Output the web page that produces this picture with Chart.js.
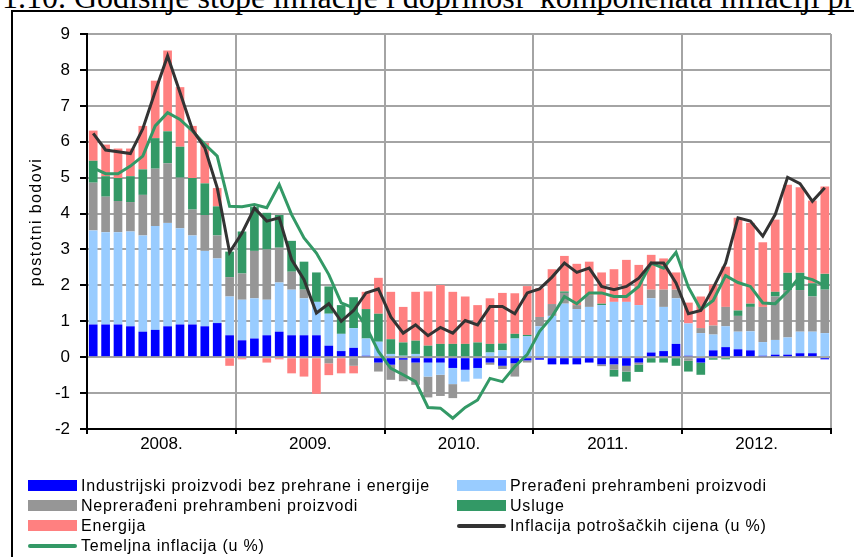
<!DOCTYPE html>
<html><head><meta charset="utf-8">
<script src="https://cdn.jsdelivr.net/npm/chart.js@4"></script>
<style>
html,body{margin:0;padding:0;background:#fff;width:854px;height:557px;overflow:hidden;position:relative}
#title{position:absolute;left:2px;top:-19.5px;font:32px/32px "Liberation Serif","Times New Roman",serif;white-space:nowrap;color:#000}
#frame{position:absolute;left:11px;top:10px;width:900px;height:600px;border-left:2px solid #000;border-top:2px solid #000;box-sizing:border-box}
#chart{position:absolute;left:0;top:0}
#legend{position:absolute;left:0;top:0;width:854px;height:557px;font:16px "Liberation Sans",Arial,sans-serif;letter-spacing:0.8px;color:#000}
.item{position:absolute;height:20px;line-height:20px;white-space:nowrap}
.sw{position:absolute;left:0;width:49px}
.tx{position:absolute;left:53px;top:0}
</style></head><body>
<div id="title">1.10. Godišnje stope inflacije i doprinosi&nbsp; komponenata inflaciji prema</div>
<div id="frame"></div>
<canvas id="chart" width="854" height="557"></canvas>
<div id="legend"></div>
<script>
const years = ['2008.', '2009.', '2010.', '2011.', '2012.'];
const monthNames = ['1','2','3','4','5','6','7','8','9','10','11','12'];
const yTicks = [-2,-1,0,1,2,3,4,5,6,7,8,9];

const industrijski = [
  0.91,0.91,0.91,0.86,0.71,0.76,0.86,0.91,0.91,0.86,0.95,0.61,
  0.47,0.52,0.61,0.71,0.61,0.61,0.61,0.32,0.17,0.26,0.04,-0.15,
  -0.21,-0.07,-0.15,-0.15,-0.15,-0.30,-0.35,-0.30,-0.15,-0.24,-0.17,-0.09,
  -0.07,-0.20,-0.20,-0.20,-0.15,-0.20,-0.20,-0.24,-0.15,0.13,0.17,0.37,
  0.04,-0.15,0.19,0.28,0.22,0.19,0.04,0.07,0.07,0.11,0.11,-0.06];
const preradeni = [
  2.62,2.57,2.57,2.64,2.68,2.89,2.88,2.68,2.48,2.10,1.80,1.08,
  1.13,1.12,0.99,1.37,1.27,1.03,0.93,0.89,0.48,0.55,0.48,0.43,
  0.09,0.04,0.09,-0.39,-0.34,-0.45,-0.33,-0.30,0.13,0.19,0.52,0.58,
  0.86,1.15,1.49,1.34,1.40,1.45,1.54,1.54,1.45,1.51,1.23,1.27,
  0.90,0.67,0.44,0.58,0.49,0.53,0.38,0.41,0.48,0.60,0.60,0.67];
const nepreradeni = [
  1.33,0.99,0.87,0.82,1.13,1.60,1.66,1.41,0.72,1.00,0.64,0.54,
  0.73,1.32,1.40,0.97,0.50,0.24,0.00,-0.17,0.00,-0.24,0.00,-0.25,
  -0.42,-0.60,-0.62,-0.58,-0.59,-0.39,0.00,0.00,-0.06,-0.09,-0.37,-0.06,
  0.26,0.33,0.30,0.11,0.33,-0.05,-0.15,-0.16,-0.06,0.24,0.48,0.24,
  -0.10,0.14,0.25,0.54,0.44,0.68,0.98,1.21,1.32,1.16,0.98,1.21];
const usluge = [
  0.61,0.57,0.64,0.72,0.71,0.85,0.89,0.86,0.88,0.88,0.81,0.71,
  1.17,1.22,1.02,0.91,0.86,0.78,0.82,0.76,0.80,0.86,0.82,0.78,
  0.41,0.37,0.37,0.32,0.37,0.37,0.37,0.41,0.24,0.19,0.13,0.04,
  0.00,0.00,0.04,0.00,0.00,0.04,-0.19,-0.28,-0.20,-0.15,-0.15,-0.24,
  -0.30,-0.34,-0.07,-0.06,0.15,0.09,0.00,0.13,0.48,0.48,0.37,0.44];
const energija = [
  0.84,0.88,0.82,0.77,1.21,1.60,2.25,1.66,1.45,1.13,0.51,-0.24,
  -0.06,0.00,-0.15,-0.06,-0.45,-0.54,-1.02,-0.33,-0.45,-0.21,0.48,1.00,
  1.32,0.99,1.36,1.51,1.64,1.45,1.32,1.04,1.27,1.41,1.13,1.36,
  0.80,0.97,0.99,1.15,0.93,0.87,0.91,1.17,1.12,0.97,0.87,0.48,
  0.58,0.88,1.14,1.12,2.58,2.25,1.80,2.01,2.45,2.38,2.30,2.43];
const inflacijaCPI = [
  6.23,5.77,5.72,5.67,6.36,7.40,8.39,7.37,6.34,5.83,4.72,2.92,
  3.46,4.15,3.79,3.88,2.72,2.16,1.23,1.49,1.00,1.30,1.79,1.90,
  1.12,0.67,0.90,0.60,0.83,0.67,1.02,0.90,1.41,1.41,1.21,1.79,
  1.90,2.23,2.62,2.36,2.48,1.97,1.88,1.97,2.20,2.62,2.62,2.07,
  1.21,1.30,1.93,2.62,3.88,3.79,3.37,3.97,5.01,4.83,4.34,4.72];
const temeljna = [
  5.27,5.11,5.11,5.32,5.60,6.44,6.81,6.62,6.30,5.93,5.60,4.20,
  4.19,4.25,4.16,4.81,3.97,3.32,2.90,2.30,1.51,1.37,0.86,0.16,
  -0.31,-0.49,-0.68,-1.40,-1.42,-1.70,-1.40,-1.19,-0.59,-0.68,-0.26,0.07,
  0.72,1.13,1.69,1.49,1.79,1.79,1.69,1.69,1.97,2.62,2.48,2.92,
  1.95,1.32,1.58,2.27,2.08,1.97,1.51,1.49,1.83,2.25,2.16,1.99];

const categories = [];
years.forEach(y => monthNames.forEach(m => categories.push(m + '/' + y)));

const FONT = "'Liberation Sans', Arial, sans-serif";
const GRID = '#a4a4a4';

function barDs(label, data, color) {
  return { type: 'bar', label, data, backgroundColor: color, borderWidth: 0,
    stack: 'comp', order: 1, barPercentage: 0.7, categoryPercentage: 1.0 };
}
function lineDs(label, data, color, stack) {
  return { type: 'line', label, data, borderColor: color, backgroundColor: color,
    borderWidth: 3, pointRadius: 0, tension: 0, fill: false, stack, order: 0 };
}

const datasets = [
  barDs('Industrijski proizvodi bez prehrane i energije', industrijski, '#0000ff'),
  barDs('Prerađeni prehrambeni proizvodi', preradeni, '#99ccff'),
  barDs('Neprerađeni prehrambeni proizvodi', nepreradeni, '#969696'),
  barDs('Usluge', usluge, '#339966'),
  barDs('Energija', energija, '#ff8080'),
  lineDs('Inflacija potrošačkih cijena (u %)', inflacijaCPI, '#333333', 'cpi'),
  lineDs('Temeljna inflacija (u %)', temeljna, '#339966', 'core')
];

const yTitle = {
  id: 'yTitle',
  afterDraw(chart) {
    const c = chart.ctx;
    c.save();
    c.translate(37, 222);
    c.rotate(-Math.PI / 2);
    c.font = '16px ' + FONT;
    if ('letterSpacing' in c) c.letterSpacing = '1.4px';
    c.fillStyle = '#000';
    c.textAlign = 'center';
    c.textBaseline = 'middle';
    c.fillText('postotni bodovi', 0, 0);
    c.restore();
  }
};

const isYear = ctx => ctx.index === undefined || ctx.index % 12 === 0;

const chart = new Chart(document.getElementById('chart'), {
  type: 'bar',
  data: { labels: categories, datasets },
  options: {
    responsive: false,
    animation: false,
    devicePixelRatio: 1,
    layout: { padding: { top: 34, right: 23, left: 0, bottom: 0 } },
    plugins: { legend: { display: false }, tooltip: { enabled: false }, title: { display: false } },
    scales: {
      x: {
        stacked: true,
        offset: true,
        afterFit(s) { s.height = 128; },
        grid: {
          offset: true,
          color: ctx => isYear(ctx) ? GRID : 'rgba(0,0,0,0)',
          tickColor: ctx => isYear(ctx) ? '#000' : 'rgba(0,0,0,0)',
          lineWidth: 2,
          tickLength: 5,
          drawOnChartArea: true
        },
        border: { color: '#000', width: 2 },
        ticks: {
          autoSkip: false, maxRotation: 0, minRotation: 0,
          padding: 0,
          labelOffset: -6.2,
          color: '#000',
          font: { family: FONT, size: 17 },
          callback: (v, i) => (i % 12 === 6 ? years[Math.floor(i / 12)] : '')
        }
      },
      y: {
        stacked: true,
        min: yTicks[0], max: yTicks[yTicks.length - 1],
        afterFit(s) { s.width = 87; },
        afterBuildTicks(s) { s.ticks = yTicks.map(v => ({ value: v })); },
        grid: { color: GRID, lineWidth: 2, tickColor: '#000', tickLength: 7 },
        border: { color: '#000', width: 2 },
        ticks: { padding: 10, color: '#000', font: { family: FONT, size: 17 },
          callback: v => String(v) }
      }
    }
  },
  plugins: [yTitle]
});

// HTML legend built from the chart's datasets
const legend = document.getElementById('legend');
chart.data.datasets.forEach((ds, i) => {
  const col = i % 2, row = Math.floor(i / 2);
  const item = document.createElement('div');
  item.className = 'item';
  item.style.left = (col ? 457 : 28) + 'px';
  item.style.top = (475.5 + row * 20) + 'px';
  const sw = document.createElement('div');
  sw.className = 'sw';
  if (ds.type === 'line') {
    sw.style.top = '8px'; sw.style.height = '4px'; sw.style.borderRadius = '2px';
    sw.style.background = ds.borderColor;
  } else {
    sw.style.top = '4.5px'; sw.style.height = '11px';
    sw.style.background = ds.backgroundColor;
  }
  const tx = document.createElement('div');
  tx.className = 'tx';
  tx.textContent = ds.label;
  item.appendChild(sw); item.appendChild(tx);
  legend.appendChild(item);
});
</script>
</body></html>
